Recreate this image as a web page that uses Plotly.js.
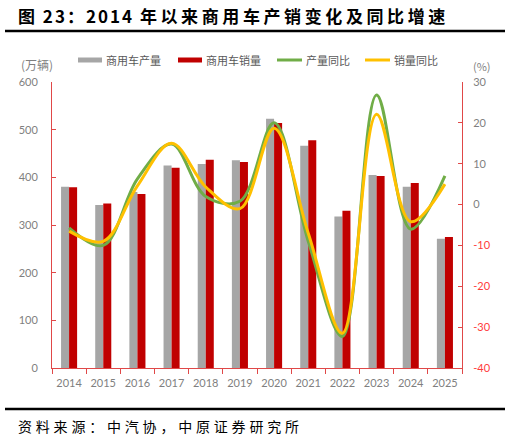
<!DOCTYPE html>
<html>
<head>
<meta charset="utf-8">
<script src="https://cdn.plot.ly/plotly-3.0.1.min.js"></script>
<style>html,body{margin:0;padding:0;background:#fff;}</style>
</head>
<body>
<div id="chart" style="width:510px;height:440px;"></div>
<script>
// ---- data ----
const years = ['2014','2015','2016','2017','2018','2019','2020','2021','2022','2023','2024','2025'];
const production = [380, 342, 369, 425, 428, 436, 523, 466, 318, 405, 380, 271];   // 万辆
const sales      = [379, 345, 365, 420, 437, 432, 514, 478, 330, 403, 388, 275];   // 万辆
const prodYoY    = [-5.7, -10.0, 6.3, 14.8, 2.0, 0.8, 20.0, -9.0, -32.3, 26.8, -6.0, 7.0]; // %
const salesYoY   = [-6.5, -9.0, 4.6, 15.0, 4.3, -1.0, 18.7, -7.0, -31.5, 22.1, -4.2, 5.0]; // %
const names = ['商用车产量', '商用车销量', '产量同比', '销量同比'];
const rightTicks = [30, 20, 10, 0, -10, -20, -30, -40];

const GRAY = '#A6A6A6', RED = '#C00000', GREEN = '#70AD47', YELLOW = '#FFC000';
const AXIS = '#E04848', LABEL = '#7F7F7F', NEG = '#FF3B3B';
const CJK = '"Noto Sans CJK SC", sans-serif';
const NUM = 'Lato, "Open Sans", sans-serif';

const traces = [
  {type:'bar', x:years, y:production, name:names[0], marker:{color:GRAY}, hoverinfo:'skip'},
  {type:'bar', x:years, y:sales, name:names[1], marker:{color:RED}, hoverinfo:'skip'},
  {type:'scatter', mode:'lines', x:years, y:prodYoY, name:names[2], yaxis:'y2',
   line:{color:GREEN, width:3, shape:'spline', smoothing:1}},
  {type:'scatter', mode:'lines', x:years, y:salesYoY, name:names[3], yaxis:'y2',
   line:{color:YELLOW, width:3, shape:'spline', smoothing:1}}
];

const ph = 286, pw = 410, ml = 52, mt = 82;
const px = v => (v - ml) / pw;
const py = v => 1 - (v - mt) / ph;

// manual legend (icon x-start positions in pixels)
const legX = [78, 178, 277, 365];
const legColors = [GRAY, RED, GREEN, YELLOW];
const legShapes = legX.map((x, i) => i < 2
  ? {type:'rect', xref:'paper', yref:'paper', x0:px(x), x1:px(x+24), y0:py(62.5), y1:py(57.5),
     fillcolor:legColors[i], line:{width:0}}
  : {type:'line', xref:'paper', yref:'paper', x0:px(x), x1:px(x+25), y0:py(60), y1:py(60),
     line:{color:legColors[i], width:3}});
const legText = legX.map((x, i) => ({xref:'paper', yref:'paper', x:px(x + (i < 2 ? 26 : 27)), y:py(60),
  xanchor:'left', yanchor:'middle', showarrow:false, text:names[i],
  font:{family:CJK, size:11, color:'#595959'}}));

const layout = {
  width:510, height:440,
  margin:{l:ml, r:510-ml-pw, t:mt, b:440-mt-ph, pad:0},
  paper_bgcolor:'#fff', plot_bgcolor:'#fff',
  barmode:'group', bargap:0.53, bargroupgap:0,
  showlegend:false,
  xaxis:{type:'category', showline:true, linecolor:AXIS, linewidth:1, tickangle:0,
         ticks:'outside', tickson:'boundaries', ticklen:5, tickcolor:AXIS, ticklabelstandoff:5,
         tickfont:{family:NUM, size:11, color:LABEL}, showgrid:false, zeroline:false, fixedrange:true},
  yaxis:{range:[0,600], dtick:100, showline:true, linecolor:AXIS, linewidth:1,
         ticks:'inside', ticklen:4, tickcolor:AXIS, ticklabelstandoff:11,
         tickfont:{family:NUM, size:11, color:LABEL}, showgrid:false, zeroline:false},
  yaxis2:{overlaying:'y', side:'right', range:[-40,30],
          tickvals:rightTicks,
          ticktext:rightTicks.map(v => v < 0 ? '<span style="color:'+NEG+'">'+v+'</span>' : String(v)),
          showline:true, linecolor:AXIS, linewidth:1,
          ticks:'inside', ticklen:4, tickcolor:AXIS, ticklabelstandoff:8,
          tickfont:{family:NUM, size:11, color:LABEL}, showgrid:false, zeroline:false},
  shapes:[
    {type:'line', xref:'paper', yref:'paper', x0:px(5), x1:px(505), y0:py(31), y1:py(31), line:{color:'#000', width:2.5}},
    {type:'line', xref:'paper', yref:'paper', x0:px(5), x1:px(505), y0:py(409), y1:py(409), line:{color:'#000', width:2.5}}
  ].concat(legShapes),
  annotations:[
    {xref:'paper', yref:'paper', x:px(16), y:py(16), xanchor:'left', yanchor:'middle', showarrow:false,
     text:'<b><span style="letter-spacing:2px">图 23：2014 </span><span style="letter-spacing:3.6px">年以来商用车产销变化及同比增速</span></b>',
     font:{family:CJK, size:17, color:'#000'}},
    {xref:'paper', yref:'paper', x:px(37), y:py(64), xanchor:'center', yanchor:'middle', showarrow:false,
     text:'(万辆)', font:{family:CJK, size:12, color:LABEL}},
    {xref:'paper', yref:'paper', x:px(482), y:py(66), xanchor:'center', yanchor:'middle', showarrow:false,
     text:'(%)', font:{family:CJK, size:11, color:LABEL}},
    {xref:'paper', yref:'paper', x:px(16), y:py(426), xanchor:'left', yanchor:'middle', showarrow:false,
     text:'<span style="letter-spacing:3.8px">资料来源：中汽协，中原证券研究所</span>', font:{family:CJK, size:14, color:'#000'}}
  ].concat(legText)
};

Plotly.newPlot('chart', traces, layout, {displayModeBar:false, staticPlot:true});
</script>
</body>
</html>
